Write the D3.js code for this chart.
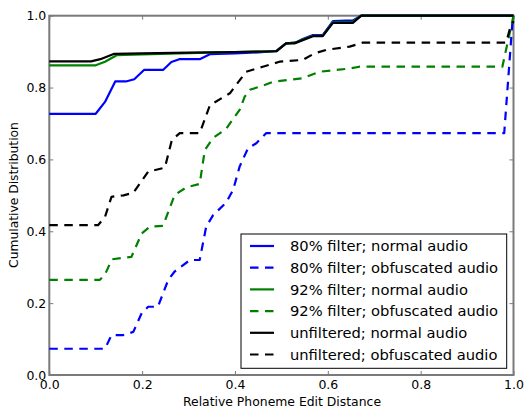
<!DOCTYPE html>
<html>
<head>
<meta charset="utf-8">
<script src="https://cdn.jsdelivr.net/npm/d3@7"></script>
<style>
  body { margin: 0; background: #fff; }
  svg { font-family: "DejaVu Sans", sans-serif; }
</style>
</head>
<body>
<div id="chart"></div>
<script>
// series, [distance, cumulative]
const filter80Normal = [[0,0.727],[0.10,0.727],[0.12,0.76],[0.142,0.817],[0.165,0.817],[0.183,0.823],[0.204,0.849],[0.245,0.849],[0.263,0.871],[0.28,0.879],[0.324,0.879],[0.346,0.893],[0.40,0.895],[0.45,0.898],[0.489,0.902],[0.51,0.923],[0.53,0.925],[0.546,0.935],[0.568,0.946],[0.589,0.946],[0.611,0.985],[0.654,0.987],[0.672,1.0],[1.0,1.0]];
const filter80Obf = [[0,0.073],[0.12,0.073],[0.134,0.111],[0.159,0.111],[0.181,0.12],[0.199,0.172],[0.213,0.19],[0.234,0.19],[0.256,0.264],[0.27,0.288],[0.303,0.32],[0.324,0.32],[0.338,0.413],[0.353,0.445],[0.381,0.48],[0.396,0.515],[0.41,0.58],[0.428,0.631],[0.446,0.645],[0.467,0.673],[0.98,0.673],[0.998,0.988],[1.0,1.0]];
const filter92Normal = [[0,0.862],[0.10,0.862],[0.12,0.872],[0.145,0.89],[0.2,0.892],[0.3,0.896],[0.4,0.899],[0.489,0.901],[0.51,0.923],[0.53,0.925],[0.546,0.934],[0.568,0.944],[0.589,0.944],[0.611,0.982],[0.654,0.983],[0.672,1.0],[1.0,1.0]];
const filter92Obf = [[0,0.265],[0.109,0.265],[0.12,0.28],[0.135,0.322],[0.177,0.329],[0.199,0.394],[0.217,0.413],[0.245,0.415],[0.27,0.501],[0.295,0.522],[0.324,0.532],[0.335,0.626],[0.353,0.66],[0.381,0.685],[0.41,0.738],[0.421,0.775],[0.432,0.794],[0.46,0.805],[0.482,0.816],[0.546,0.826],[0.582,0.844],[0.647,0.853],[0.668,0.858],[0.976,0.858],[0.987,0.923],[1.0,1.0]];
const unfilteredNormal = [[0,0.873],[0.09,0.873],[0.11,0.879],[0.14,0.894],[0.2,0.895],[0.3,0.897],[0.4,0.899],[0.489,0.901],[0.51,0.923],[0.528,0.923],[0.546,0.932],[0.568,0.943],[0.589,0.943],[0.611,0.98],[0.654,0.98],[0.672,1.0],[1.0,1.0]];
const unfilteredObf = [[0,0.417],[0.105,0.417],[0.12,0.44],[0.134,0.496],[0.16,0.5],[0.181,0.507],[0.213,0.566],[0.249,0.577],[0.264,0.654],[0.281,0.673],[0.324,0.673],[0.346,0.751],[0.389,0.784],[0.424,0.844],[0.46,0.858],[0.496,0.872],[0.546,0.877],[0.571,0.895],[0.597,0.905],[0.647,0.914],[0.675,0.925],[0.984,0.925],[0.992,0.962],[1.0,0.985]];

const seriesNames = ["80% filter; normal audio", "80% filter; obfuscated audio",
  "92% filter; normal audio", "92% filter; obfuscated audio",
  "unfiltered; normal audio", "unfiltered; obfuscated audio"];
const seriesData = [filter80Normal, filter80Obf, filter92Normal, filter92Obf, unfilteredNormal, unfilteredObf];
const seriesColors = ["#0000ff", "#0000ff", "#008000", "#008000", "#000000", "#000000"];
const seriesDashed = [false, true, false, true, false, true];
const tickValues = [0, 0.2, 0.4, 0.6, 0.8, 1.0];

const width = 526, height = 408;
const plotLeft = 49.3, plotRight = 513.5, plotTop = 15.7, plotBottom = 375;
const axisColor = "#7a7a7a";

const svg = d3.select("#chart").append("svg")
  .attr("width", width)
  .attr("height", height);

const x = d3.scaleLinear().domain([0, 1]).range([plotLeft, plotRight]);
const y = d3.scaleLinear().domain([0, 1]).range([plotBottom, plotTop]);
const fmt = d3.format(".1f");

// axes with inward ticks on all four sides
const gx = svg.append("g").attr("transform", "translate(0," + plotBottom + ")")
  .call(d3.axisBottom(x).tickValues(tickValues).tickFormat(fmt).tickSizeInner(-4).tickSizeOuter(0).tickPadding(5));
const gy = svg.append("g").attr("transform", "translate(" + plotLeft + ",0)")
  .call(d3.axisLeft(y).tickValues(tickValues).tickFormat(fmt).tickSizeInner(-4).tickSizeOuter(0).tickPadding(3));
const gt = svg.append("g").attr("transform", "translate(0," + plotTop + ")")
  .call(d3.axisTop(x).tickValues(tickValues).tickFormat("").tickSizeInner(-4).tickSizeOuter(0));
const gr = svg.append("g").attr("transform", "translate(" + plotRight + ",0)")
  .call(d3.axisRight(y).tickValues(tickValues).tickFormat("").tickSizeInner(-4).tickSizeOuter(0));

[gx, gy, gt, gr].forEach(g => {
  g.select(".domain").remove();
  g.selectAll(".tick line").attr("stroke", axisColor).attr("stroke-width", 1);
  g.selectAll(".tick text").attr("fill", "#000").style("font-size", "12.5px").style("font-family", "DejaVu Sans");
});

svg.append("rect")
  .attr("x", plotLeft).attr("y", plotTop)
  .attr("width", plotRight - plotLeft).attr("height", plotBottom - plotTop)
  .attr("fill", "none")
  .attr("stroke", axisColor)
  .attr("stroke-width", 2);

// lines
const line = d3.line().x(d => x(d[0])).y(d => y(d[1]));
seriesData.forEach((data, i) => {
  svg.append("path")
    .datum(data)
    .attr("d", line)
    .attr("fill", "none")
    .attr("stroke", seriesColors[i])
    .attr("stroke-width", 2.2)
    .attr("stroke-linejoin", "round")
    .attr("stroke-dasharray", seriesDashed[i] ? "8.5,6.5" : null);
});

// axis titles
svg.append("text")
  .attr("x", 282).attr("y", 406)
  .attr("text-anchor", "middle")
  .style("font-size", "12.4px")
  .text("Relative Phoneme Edit Distance");

svg.append("text")
  .attr("transform", "translate(18,195) rotate(-90)")
  .attr("text-anchor", "middle")
  .style("font-size", "12.3px")
  .text("Cumulative Distribution");

// legend
const legend = svg.append("g");
legend.append("rect")
  .attr("x", 241).attr("y", 234)
  .attr("width", 265.7).attr("height", 134.3)
  .attr("fill", "#fff")
  .attr("stroke", "#000")
  .attr("stroke-width", 1);

seriesNames.forEach((name, i) => {
  const ry = 246 + i * 21.7;
  legend.append("line")
    .attr("x1", 250).attr("x2", 274)
    .attr("y1", ry).attr("y2", ry)
    .attr("stroke", seriesColors[i])
    .attr("stroke-width", 2.2)
    .attr("stroke-dasharray", seriesDashed[i] ? "8.5,6.5" : null);
  legend.append("text")
    .attr("x", 290).attr("y", ry)
    .attr("dy", "0.35em")
    .style("font-size", "14.7px")
    .text(name);
});
</script>
</body>
</html>
